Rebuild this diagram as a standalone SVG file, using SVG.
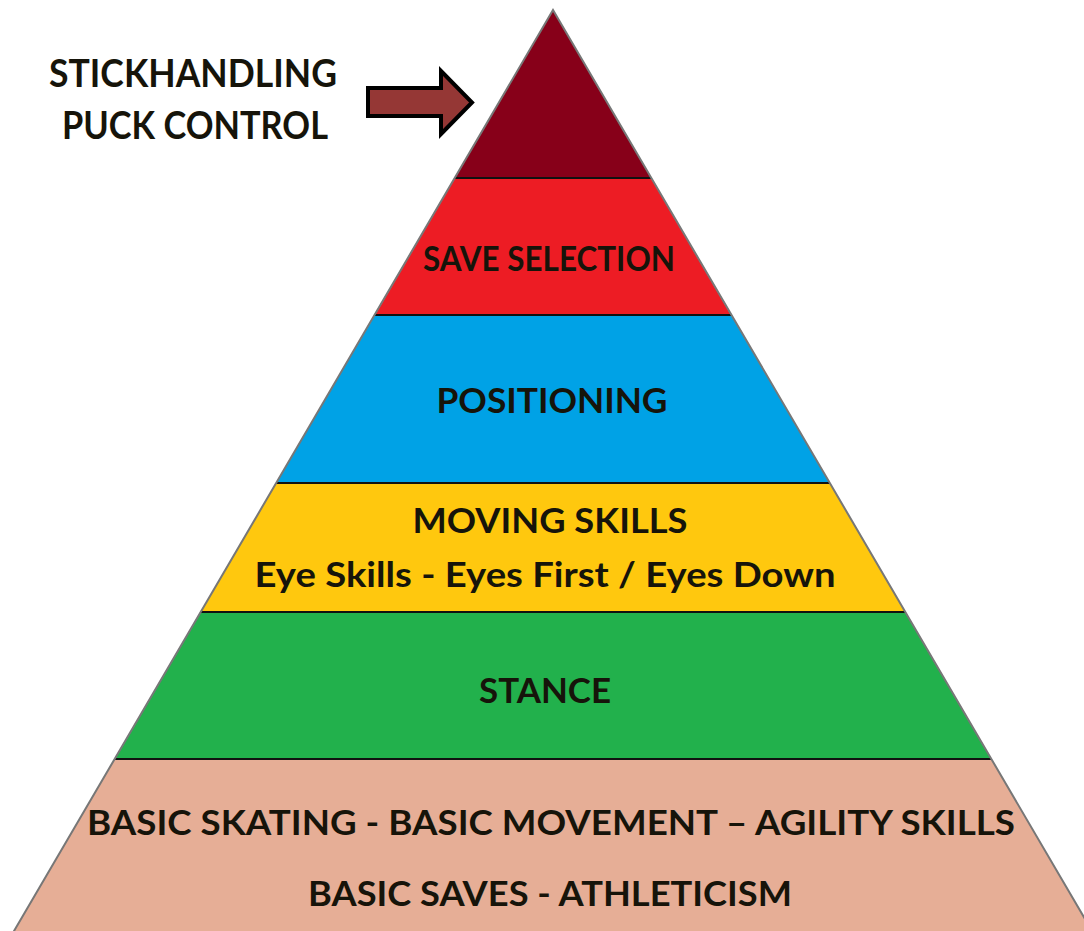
<svg xmlns="http://www.w3.org/2000/svg" width="1084" height="931" viewBox="0 0 1084 931">
  <style>
    .lbl { font-family: Lato, "Open Sans", "Liberation Sans", sans-serif; font-weight: 700; fill: #16140a; text-anchor: middle; }
    .band-sep { stroke: #111; stroke-width: 2; }
    .edge { stroke: #777; stroke-width: 2; fill: none; stroke-linecap: round; }
  </style>
  <rect width="1084" height="931" fill="#ffffff"/>

  <!-- pyramid tiers, top to bottom -->
  <g id="tier-stickhandling">
    <polygon points="553,10 651,178 455,178" fill="#870019"/>
  </g>
  <g id="tier-save-selection">
    <polygon points="455,178 651,178 731,315 375,315" fill="#ED1C24"/>
    <text class="lbl" x="549" y="271" font-size="34" textLength="252" lengthAdjust="spacingAndGlyphs">SAVE SELECTION</text>
  </g>
  <g id="tier-positioning">
    <polygon points="375,315 731,315 830,483 276,483" fill="#00A2E6"/>
    <text class="lbl" x="552" y="413" font-size="34" textLength="231" lengthAdjust="spacingAndGlyphs">POSITIONING</text>
  </g>
  <g id="tier-moving-skills">
    <polygon points="276,483 830,483 905,612 201,612" fill="#FFC80E"/>
    <text class="lbl" x="550" y="533" font-size="34" textLength="275" lengthAdjust="spacingAndGlyphs">MOVING SKILLS</text>
    <text class="lbl" x="545" y="587" font-size="34" textLength="581" lengthAdjust="spacingAndGlyphs">Eye Skills - Eyes First / Eyes Down</text>
  </g>
  <g id="tier-stance">
    <polygon points="201,612 905,612 991,759 115,759" fill="#22B14C"/>
    <text class="lbl" x="545" y="703" font-size="34" textLength="132" lengthAdjust="spacingAndGlyphs">STANCE</text>
  </g>
  <g id="tier-basics">
    <polygon points="115,759 991,759 1092,931 14,931" fill="#E6AE96"/>
    <text class="lbl" x="551" y="835" font-size="34" textLength="928" lengthAdjust="spacingAndGlyphs">BASIC SKATING - BASIC MOVEMENT – AGILITY SKILLS</text>
    <text class="lbl" x="550" y="906" font-size="34" textLength="484" lengthAdjust="spacingAndGlyphs">BASIC SAVES - ATHLETICISM</text>
  </g>

  <!-- tier separators and outline -->
  <g id="outline">
    <line class="band-sep" x1="455" y1="178" x2="651" y2="178"/>
    <line class="band-sep" x1="375" y1="315" x2="731" y2="315"/>
    <line class="band-sep" x1="276" y1="483" x2="830" y2="483"/>
    <line class="band-sep" x1="201" y1="612" x2="905" y2="612"/>
    <line class="band-sep" x1="115" y1="759" x2="991" y2="759"/>
    <polyline class="edge" points="14,931 553,10 1092,931"/>
  </g>

  <!-- side label with pointer to the apex -->
  <g id="label-stickhandling">
    <text class="lbl" x="193" y="87" font-size="39" textLength="288" lengthAdjust="spacingAndGlyphs">STICKHANDLING</text>
    <text class="lbl" x="195" y="139" font-size="39" textLength="266" lengthAdjust="spacingAndGlyphs">PUCK CONTROL</text>
  </g>
  <g id="connectors">
    <polygon points="368,88 441,88 441,71 472,102.5 441,134 441,116 368,116" fill="#953735" stroke="#000" stroke-width="4" stroke-linejoin="miter"/>
  </g>
</svg>
